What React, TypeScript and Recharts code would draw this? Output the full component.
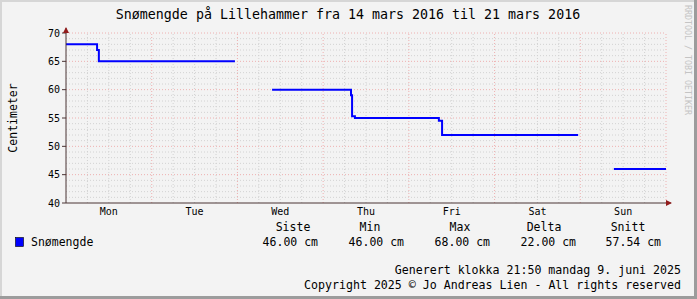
import React from 'react';
import { LineChart, Line, XAxis, YAxis, ReferenceLine } from 'recharts';

// snow depth readings (hours since Mon 00:00, cm); null breaks the line
const hours = [0, 8.7, 9.2, 47.3, 47.4, 57.7, 79.8, 80.1, 80.9, 104.4, 105.3, 143.4, 143.5, 153.4, 168];
const snow = [68, 67, 65, 65, null, 60, 59, 55.3, 55, 54.5, 52, 52, null, 46, 46];

const days = ['Mon', 'Tue', 'Wed', 'Thu', 'Fri', 'Sat', 'Sun'];
const dayTicks = [12, 36, 60, 84, 108, 132, 156];
const yTicks = [40, 45, 50, 55, 60, 65, 70];
const minorY = Array.from({ length: 31 }, (_, i) => 40 + i).filter((v) => v % 5 !== 0);
const majorY = [45, 50, 55, 60, 65, 70];
const minorX = Array.from({ length: 28 }, (_, i) => i * 6).filter((h) => h % 24 !== 0);
const majorX = [24, 48, 72, 96, 120, 144, 168];

const statLabels = ['Siste', 'Min', 'Max', 'Delta', 'Snitt'];
const statValues = ['46.00 cm', '46.00 cm', '68.00 cm', '22.00 cm', '57.54 cm'];

const data = hours.map((h, i) => ({ hour: h, snow: snow[i] }));

const FONT = '"DejaVu Sans Mono", monospace';
const BG = '#f3f3f3';
const AXIS = '#4a3434';
const ARROW = '#921c1c';
const MINOR = '#d2d2d2';
const MAJOR = '#eeb0b0';

const headerX = [293, 370, 460, 544, 628];
const valueRight = [318, 404, 490, 576, 661];

export default function App() {
  return (
    <div style={{ position: 'absolute', left: 0, top: 0, width: 697, height: 299, background: BG }}>
      <LineChart
        width={697}
        height={299}
        data={data}
        margin={{ top: 33, right: 31, bottom: 76, left: 0 }}
      >
        <XAxis
          dataKey="hour"
          type="number"
          domain={[0, 168]}
          ticks={dayTicks}
          tickFormatter={(v: number) => days[dayTicks.indexOf(v)]}
          tickLine={false}
          tickSize={0}
          tickMargin={5}
          height={20}
          axisLine={{ stroke: AXIS, strokeWidth: 1 }}
          tick={{ fontSize: 10, fill: '#000', fontFamily: FONT }}
          allowDataOverflow
        />
        <YAxis
          type="number"
          domain={[40, 70]}
          ticks={yTicks}
          width={66}
          tickSize={4}
          tickMargin={2}
          tickLine={{ stroke: AXIS }}
          axisLine={{ stroke: AXIS, strokeWidth: 1 }}
          tick={{ fontSize: 10, fill: '#000', fontFamily: FONT }}
          allowDataOverflow
        />
        {minorY.map((v) => (
          <ReferenceLine key={`my${v}`} y={v} stroke={MINOR} strokeDasharray="1 2" />
        ))}
        {minorX.map((h) => (
          <ReferenceLine key={`mx${h}`} x={h} stroke={MINOR} strokeDasharray="1 2" />
        ))}
        {majorY.map((v) => (
          <ReferenceLine key={`My${v}`} y={v} stroke={MAJOR} strokeDasharray="1 2" />
        ))}
        {majorX.map((h) => (
          <ReferenceLine key={`Mx${h}`} x={h} stroke={MAJOR} strokeDasharray="1 2" />
        ))}
        <Line
          dataKey="snow"
          type="stepAfter"
          stroke="#0000ff"
          strokeWidth={2}
          dot={false}
          activeDot={false}
          connectNulls={false}
          isAnimationActive={false}
        />
      </LineChart>
      <svg
        width={697}
        height={299}
        style={{ position: 'absolute', left: 0, top: 0, pointerEvents: 'none' }}
        fontFamily={FONT}
      >
        {/* frame */}
        <rect x={0} y={0} width={697} height={2} fill="#d6d6d6" />
        <rect x={0} y={0} width={2} height={299} fill="#d6d6d6" />
        <rect x={694} y={0} width={3} height={299} fill="#9c9c9c" />
        <rect x={0} y={296} width={697} height={3} fill="#9c9c9c" />
        {/* axis arrows */}
        <line x1={66} y1={28} x2={66} y2={33} stroke={AXIS} />
        <polygon points="63,33 69,33 66,27" fill={ARROW} />
        <line x1={666} y1={203} x2={671} y2={203} stroke={AXIS} />
        <polygon points="666,200 666,206 672,203" fill={ARROW} />
        <text x={348} y={14} textAnchor="middle" dominantBaseline="central" fontSize={13.3} fill="#000">
          Snømengde på Lillehammer fra 14 mars 2016 til 21 mars 2016
        </text>
        <text
          x={13}
          y={118}
          textAnchor="middle"
          dominantBaseline="central"
          fontSize={11.5}
          fill="#000"
          transform="rotate(-90 13 118)"
        >
          Centimeter
        </text>
        <text
          x={688}
          y={5}
          textAnchor="start"
          dominantBaseline="central"
          fontSize={8.3}
          fill="#c4c4c4"
          transform="rotate(90 688 5)"
        >
          RRDTOOL / TOBI OETIKER
        </text>
        {statLabels.map((s, i) => (
          <text key={s} x={headerX[i]} y={227} textAnchor="middle" dominantBaseline="central" fontSize={11.5} fill="#000">
            {s}
          </text>
        ))}
        <rect x={15.5} y={237.5} width={8} height={9} fill="#0000ff" stroke="#000" strokeWidth={0.6} />
        <text x={31} y={242} dominantBaseline="central" fontSize={11.5} fill="#000">
          Snømengde
        </text>
        {statValues.map((s, i) => (
          <text key={i} x={valueRight[i]} y={242} textAnchor="end" dominantBaseline="central" fontSize={11.5} fill="#000">
            {s}
          </text>
        ))}
        <text x={681} y={270} textAnchor="end" dominantBaseline="central" fontSize={11.6} fill="#000">
          Generert klokka 21:50 mandag 9. juni 2025
        </text>
        <text x={681} y={285} textAnchor="end" dominantBaseline="central" fontSize={11.6} fill="#000">
          Copyright 2025 © Jo Andreas Lien - All rights reserved
        </text>
      </svg>
    </div>
  );
}
